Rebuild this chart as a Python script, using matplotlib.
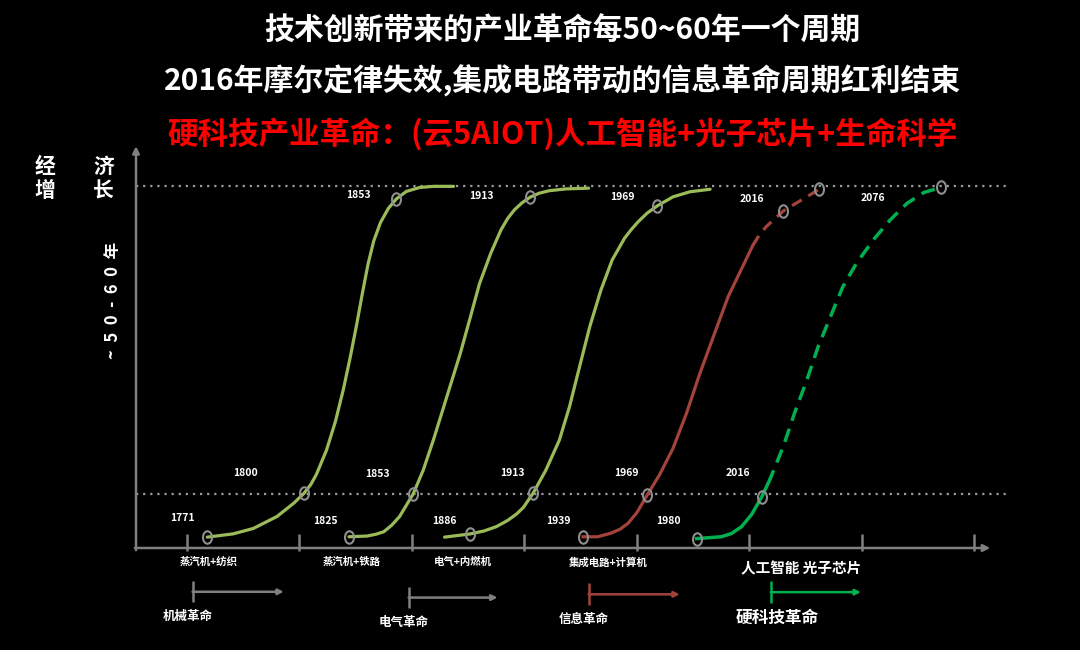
import matplotlib
matplotlib.use("Agg")
import matplotlib.pyplot as plt
from matplotlib.path import Path
from matplotlib.transforms import Affine2D

plt.rcParams['font.family'] = ['Noto Sans CJK SC', 'DejaVu Sans']

# x: position in tick units along the time axis (ticks at 1..8)
# y: growth level, 0 = time axis, 100 = upper dotted line
c1_x = [1.18, 1.41, 1.59, 1.80, 1.95, 2.04, 2.10, 2.15, 2.24, 2.32, 2.39, 2.45, 2.51, 2.56, 2.61, 2.66, 2.72, 2.79, 2.86, 2.95, 3.07, 3.19, 3.37]
c1_y = [3.0, 3.9, 5.4, 8.7, 12.4, 15.1, 17.5, 20.3, 27.0, 35.0, 43.8, 52.5, 62.0, 70.5, 78.5, 84.8, 89.9, 93.8, 96.4, 98.5, 99.6, 99.9, 99.9]

c2_x = [2.44, 2.60, 2.68, 2.75, 2.82, 2.89, 3.01, 3.10, 3.19, 3.31, 3.43, 3.52, 3.60, 3.70, 3.79, 3.85, 3.91, 3.98, 4.05, 4.13, 4.22, 4.37, 4.57]
c2_y = [3.1, 3.3, 3.8, 4.5, 6.3, 8.7, 14.9, 21.5, 29.8, 41.8, 53.8, 63.9, 73.0, 81.4, 87.8, 91.0, 93.4, 95.4, 96.9, 98.0, 98.7, 99.2, 99.4]

c3_x = [3.29, 3.52, 3.64, 3.75, 3.85, 3.93, 3.99, 4.08, 4.19, 4.31, 4.40, 4.49, 4.58, 4.68, 4.78, 4.89, 4.95, 5.01, 5.09, 5.18, 5.32, 5.47, 5.65]
c3_y = [3.0, 3.9, 4.7, 5.9, 7.6, 9.4, 11.2, 15.3, 21.5, 29.8, 39.0, 50.1, 61.1, 71.3, 79.6, 85.6, 88.0, 90.1, 92.5, 94.5, 97.0, 98.4, 99.1]

# information revolution: solid part, then forecast (dashed)
c4_x = [4.52, 4.65, 4.77, 4.85, 4.92, 5.00, 5.09, 5.20, 5.32, 5.44, 5.56, 5.69, 5.81, 5.92, 6.03]
c4_y = [3.1, 3.1, 4.1, 5.2, 6.8, 9.8, 14.6, 20.2, 27.5, 37.2, 48.3, 59.3, 69.4, 76.5, 83.6]
c4_fx = [6.03, 6.09, 6.15, 6.30, 6.45, 6.62]
c4_fy = [83.6, 86.6, 88.8, 93.1, 95.9, 99.1]

# hard-tech revolution
c5_x = [5.53, 5.75, 5.84, 5.93, 6.02, 6.11, 6.18]
c5_y = [2.6, 3.1, 4.0, 5.9, 9.3, 14.2, 18.8]
c5_fx = [6.18, 6.30, 6.40, 6.51, 6.61, 6.72, 6.83, 6.95, 7.10, 7.25, 7.40, 7.55, 7.70]
c5_fy = [18.8, 28.0, 37.2, 46.4, 55.6, 63.9, 72.2, 78.6, 85.1, 90.6, 95.2, 98.2, 99.6]

# ring markers on the curves
mark_x = [1.18, 2.04, 2.86, 2.44, 3.01, 4.05, 3.52, 4.08, 5.18, 4.52, 5.09, 6.30, 6.62, 5.53, 6.11, 7.70]
mark_y = [3.0, 15.1, 96.4, 3.1, 14.9, 96.9, 3.9, 15.3, 94.5, 3.1, 14.6, 93.1, 99.1, 2.6, 14.2, 99.6]

year_text = ['1771', '1800', '1825', '1853', '1853', '1886', '1913', '1913',
             '1939', '1969', '1969', '1980', '2016', '2016', '2076']
year_x = [0.96, 1.52, 2.23, 2.52, 2.69, 3.29, 3.62, 3.89, 4.30, 4.87, 4.91, 5.28, 6.02, 5.90, 7.10]
year_y = [8.3, 20.7, 7.5, 97.5, 20.4, 7.5, 97.2, 20.7, 7.5, 97.0, 20.7, 7.5, 96.4, 20.7, 96.7]

tick_pos = [1, 2, 3, 4, 5, 6, 7, 8]
tech_names = ['蒸汽机+纺织', '蒸汽机+铁路', '电气+内燃机', '集成电路+计算机']
tech_x = [1.19, 2.46, 3.45, 4.74]

era_names = ['机械革命', '电气革命', '信息革命', '硬科技革命']
era_start = [1.05, 2.97, 4.57, 6.19]
era_end = [1.86, 3.76, 5.38, 6.99]
era_level = [-12.1, -13.7, -12.8, -12.2]

titles = ['技术创新带来的产业革命每50~60年一个周期',
          '2016年摩尔定律失效,集成电路带动的信息革命周期红利结束',
          '硬科技产业革命：(云5AIOT)人工智能+光子芯片+生命科学']

OLIVE = '#9bbb59'
RED = '#a3433b'
GREEN = '#00b050'
GRAY = '#808080'

fig = plt.figure(figsize=(10.8, 6.5), dpi=100, facecolor='black')
ax = fig.add_axes([0, 0, 1, 1])
ax.set_facecolor('black')
ax.set_xlim(-0.662, 8.938)
ax.set_ylim(-28.18, 151.38)
ax.axis('off')

x0 = 0.547  # where the two axes meet

# dotted reference levels
ax.hlines([15, 100], x0, 8.32, colors='#9a9a9a', linestyles=(0, (1, 2.2)), lw=1.6, zorder=1)

# axes with arrows
ax.annotate('', xy=(x0, 111), xytext=(x0, -0.6),
            arrowprops=dict(arrowstyle='-|>', color=GRAY, lw=1.8, mutation_scale=10, shrinkA=0, shrinkB=0))
ax.annotate('', xy=(8.14, 0), xytext=(x0 - 0.01, 0),
            arrowprops=dict(arrowstyle='-|>', color=GRAY, lw=1.8, mutation_scale=10, shrinkA=0, shrinkB=0))
ax.vlines(tick_pos, -0.8, 4.0, colors=GRAY, lw=1.8)

# s-curves
for cx, cy in [(c1_x, c1_y), (c2_x, c2_y), (c3_x, c3_y)]:
    ax.plot(cx, cy, color=OLIVE, lw=2.3, solid_capstyle='round', solid_joinstyle='round', zorder=3)
ax.plot(c4_x, c4_y, color=RED, lw=2.3, solid_joinstyle='round', zorder=3)
ax.plot(c4_fx, c4_fy, color=RED, lw=2.3, linestyle=(0, (3.5, 2.4)), zorder=3)
ax.plot(c5_x, c5_y, color=GREEN, lw=2.5, solid_joinstyle='round', zorder=3)
ax.plot(c5_fx, c5_fy, color=GREEN, lw=2.5, linestyle=(1, (4, 2.4)), zorder=3)

ring = Path.unit_circle().transformed(Affine2D().scale(0.72, 1.0))
ax.plot(mark_x, mark_y, linestyle='none', marker=ring, markersize=9,
        markerfacecolor='none', markeredgecolor='#8f8f8f', markeredgewidth=1.5, zorder=4)

for t, x, y in zip(year_text, year_x, year_y):
    ax.text(x, y, t, color='white', fontsize=7.5, fontweight='bold', ha='center', va='center')

for t, x in zip(tech_names, tech_x):
    ax.text(x, -3.9, t, color='white', fontsize=7.5, fontweight='bold', ha='center', va='center')
ax.text(6.46, -5.5, '人工智能 光子芯片', color='white', fontsize=10.5, fontweight='bold',
        ha='center', va='center')

era_colors = [GRAY, GRAY, RED, GREEN]
for i, name in enumerate(era_names):
    c = era_colors[i]
    lvl = era_level[i]
    ax.vlines(era_start[i], lvl - 2.9, lvl + 3.0, colors=c, lw=1.8)
    ax.annotate('', xy=(era_end[i], lvl), xytext=(era_start[i], lvl),
                arrowprops=dict(arrowstyle='-|>', color=c, lw=1.8, mutation_scale=8, shrinkA=0, shrinkB=0))
    big = i == 3
    ax.text(era_start[i] + (0.06 if big else -0.04), lvl - (7.2 if big else 6.8), name,
            color='white', fontsize=12 if big else 9, fontweight='bold', ha='center', va='center')

# y label: 经济增长 laid out in two columns, and the period note
for ch, x, y in [('经', -0.26, 105.3), ('济', 0.26, 105.3), ('增', -0.26, 98.7), ('长', 0.26, 98.7)]:
    ax.text(x, y, ch, color='white', fontsize=15, fontweight='bold', ha='center', va='center')
ax.text(0.345, 68.5, '~  5  0  -  6  0  年', color='white', fontsize=12, fontweight='bold',
        rotation=90, ha='center', va='center')

# titles
fig.text(0.521, 1 - 31 / 650, titles[0], color='white', fontsize=21.5, fontweight='bold', ha='center', va='center')
fig.text(0.521, 1 - 81 / 650, titles[1], color='white', fontsize=21.5, fontweight='bold', ha='center', va='center')
fig.text(0.521, 1 - 134 / 650, titles[2], color='#ff0000', fontsize=22, fontweight='bold', ha='center', va='center')

fig.savefig('out.png', dpi=100, facecolor='black')
